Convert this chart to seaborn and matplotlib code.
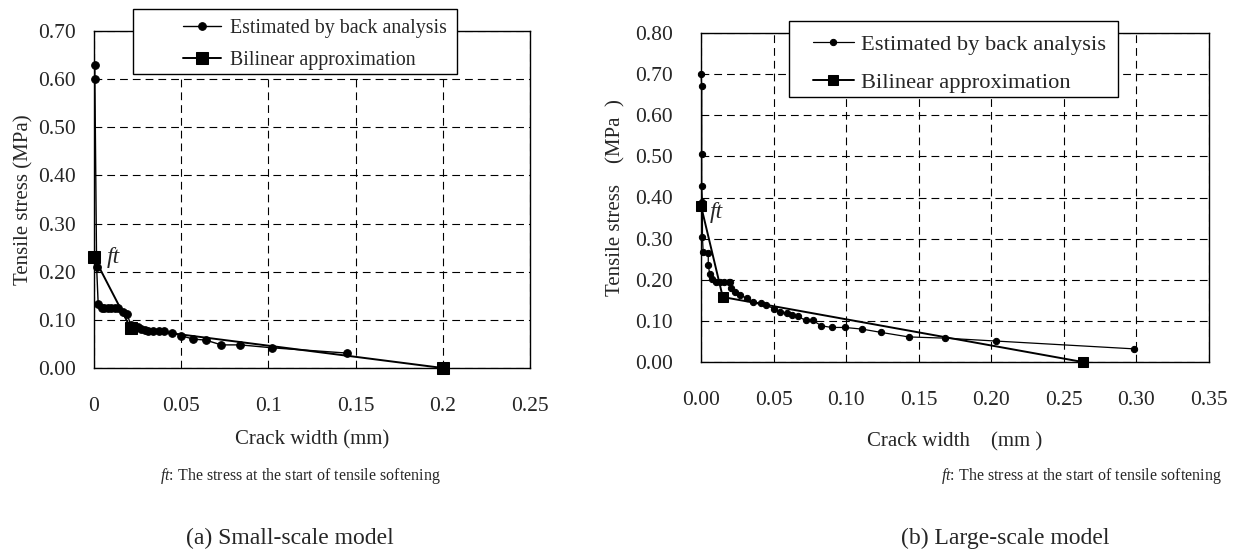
import matplotlib
matplotlib.use('Agg')
import matplotlib.pyplot as plt
from matplotlib.patches import Rectangle
import seaborn as sns

# Small-scale model: estimated by back analysis
small_x = [0.0005, 0.0005, 0.0015, 0.0024, 0.0045, 0.006, 0.008, 0.010, 0.012, 0.014,
           0.0165, 0.019, 0.021, 0.023, 0.025, 0.027, 0.029, 0.031, 0.034, 0.037,
           0.040, 0.045, 0.050, 0.057, 0.064, 0.073, 0.084, 0.102, 0.145]
small_y = [0.63, 0.60, 0.21, 0.133, 0.125, 0.125, 0.125, 0.125, 0.125, 0.125,
           0.117, 0.112, 0.09, 0.085, 0.085, 0.082, 0.078, 0.076, 0.076, 0.076,
           0.076, 0.073, 0.067, 0.060, 0.058, 0.048, 0.048, 0.042, 0.031]
# Small-scale model: bilinear approximation
small_bi_x = [0.0, 0.021, 0.2]
small_bi_y = [0.23, 0.083, 0.0]

# Large-scale model: estimated by back analysis
large_x = [0.0, 0.0005, 0.0005, 0.0005, 0.001, 0.001, 0.0015, 0.005, 0.005, 0.006,
           0.0076, 0.010, 0.013, 0.016, 0.019, 0.020, 0.021, 0.0235, 0.027, 0.032,
           0.036, 0.041, 0.045, 0.050, 0.0545, 0.059, 0.063, 0.067, 0.072, 0.077,
           0.083, 0.090, 0.099, 0.111, 0.124, 0.143, 0.168, 0.203, 0.298]
large_y = [0.70, 0.67, 0.506, 0.427, 0.389, 0.305, 0.267, 0.264, 0.235, 0.215,
           0.203, 0.195, 0.195, 0.195, 0.195, 0.195, 0.18, 0.17, 0.162, 0.155,
           0.146, 0.143, 0.138, 0.13, 0.122, 0.118, 0.115, 0.111, 0.101, 0.101,
           0.088, 0.084, 0.084, 0.080, 0.072, 0.061, 0.058, 0.051, 0.032]
# Large-scale model: bilinear approximation
large_bi_x = [0.0, 0.015, 0.263]
large_bi_y = [0.38, 0.158, 0.0]

small_xticks = [0, 0.05, 0.1, 0.15, 0.2, 0.25]
small_xticklabels = ['0', '0.05', '0.1', '0.15', '0.2', '0.25']
small_yticks = [0.0, 0.1, 0.2, 0.3, 0.4, 0.5, 0.6, 0.7]
large_xticks = [0.0, 0.05, 0.1, 0.15, 0.2, 0.25, 0.3, 0.35]
large_yticks = [0.0, 0.1, 0.2, 0.3, 0.4, 0.5, 0.6, 0.7, 0.8]

sns.set_style('white')
plt.rcParams['font.family'] = ['Liberation Serif', 'DejaVu Serif']
plt.rcParams['mathtext.fontset'] = 'custom'
plt.rcParams['mathtext.rm'] = 'Liberation Serif'
plt.rcParams['mathtext.it'] = 'Liberation Serif:italic'

W, H = 1237, 559
fig = plt.figure(figsize=(W / 100, H / 100), dpi=100)


def px_axes(x0, y0, x1, y1):
    # axes from pixel box (top-left origin)
    return fig.add_axes([x0 / W, 1 - y1 / H, (x1 - x0) / W, (y1 - y0) / H])


def style_axes(ax, xpad, ypad):
    for s in ax.spines.values():
        s.set_visible(True)
        s.set_color('black')
        s.set_linewidth(1.0)
    ax.grid(True, color='black', linestyle=(0, (7, 4.5)), linewidth=0.8)
    ax.set_axisbelow(True)
    ax.tick_params(axis='x', length=0, pad=xpad, labelsize=15.5)
    ax.tick_params(axis='y', length=0, pad=ypad, labelsize=15.5)


# (a) Small-scale model
ax1 = px_axes(94, 31, 530, 368)
sns.lineplot(x=small_x, y=small_y, ax=ax1, color='black', linewidth=1.0, marker='o',
             markersize=5.5, markeredgecolor='black', estimator=None, sort=False,
             label='Estimated by back analysis', clip_on=False)
sns.lineplot(x=small_bi_x, y=small_bi_y, ax=ax1, color='black', linewidth=1.4, marker='s',
             markersize=9, markeredgecolor='black', estimator=None, sort=False,
             label='Bilinear approximation', clip_on=False)
ax1.set_xlim(0, 0.25)
ax1.set_ylim(0, 0.7)
ax1.set_xticks(small_xticks)
ax1.set_xticklabels(small_xticklabels)
ax1.set_yticks(small_yticks)
ax1.set_yticklabels([f'{v:.2f}' for v in small_yticks])
style_axes(ax1, 21, 13)
ax1.set_xlabel('Crack width (mm)', fontsize=15, labelpad=10)
ax1.set_ylabel('Tensile stress (MPa)', fontsize=15, labelpad=3)
ax1.text(0.0075, 0.23, 'ft', fontsize=17, fontstyle='italic', va='center', ha='left')
h1, l1 = ax1.get_legend_handles_labels()
ax1.get_legend().remove()

# (b) Large-scale model
ax2 = px_axes(701, 33, 1209, 362)
sns.lineplot(x=large_x, y=large_y, ax=ax2, color='black', linewidth=0.9, marker='o',
             markersize=4.5, markeredgecolor='black', estimator=None, sort=False,
             label='Estimated by back analysis', clip_on=False)
sns.lineplot(x=large_bi_x, y=large_bi_y, ax=ax2, color='black', linewidth=1.4, marker='s',
             markersize=6.5, markeredgecolor='black', estimator=None, sort=False,
             label='Bilinear approximation', clip_on=False)
ax2.set_xlim(0, 0.35)
ax2.set_ylim(0, 0.8)
ax2.set_xticks(large_xticks)
ax2.set_xticklabels([f'{v:.2f}' for v in large_xticks])
ax2.set_yticks(large_yticks)
ax2.set_yticklabels([f'{v:.2f}' for v in large_yticks])
style_axes(ax2, 21, 20)
ax2.set_xlabel('Crack width    (mm )', fontsize=15, labelpad=16)
ax2.set_ylabel('Tensile stress    (MPa  )', fontsize=15, labelpad=7)
ax2.text(0.006, 0.364, 'ft', fontsize=17, fontstyle='italic', va='center', ha='left')
h2, l2 = ax2.get_legend_handles_labels()
ax2.get_legend().remove()

# legend boxes drawn on the figure so they overlap the axes frame
fig.patches.append(Rectangle((133 / W, 1 - 74 / H), 324 / W, 65 / H, transform=fig.transFigure,
                             facecolor='white', edgecolor='black', linewidth=1.0, zorder=3))
fig.patches.append(Rectangle((789 / W, 1 - 97 / H), 329 / W, 76 / H, transform=fig.transFigure,
                             facecolor='white', edgecolor='black', linewidth=1.0, zorder=3))
fig.legend(h1, l1, loc='upper left', bbox_to_anchor=(183 / W, 1 - 19 / H), frameon=False,
           fontsize=14.3, borderpad=0, borderaxespad=0, handlelength=1.9, handletextpad=0.45,
           labelspacing=0.66).set_zorder(5)
fig.legend(h2, l2, loc='upper left', bbox_to_anchor=(813 / W, 1 - 34 / H), frameon=False,
           fontsize=16.2, borderpad=0, borderaxespad=0, handlelength=1.8, handletextpad=0.35,
           labelspacing=0.76).set_zorder(5)

# footnotes and captions
fig.text(160 / W, 1 - 476 / H, r'$\mathit{ft}$: The stress at the start of tensile softening',
         fontsize=11.5, ha='left', va='center')
fig.text(1222 / W, 1 - 476 / H, r'$\mathit{ft}$: The stress at the start of tensile softening',
         fontsize=11.5, ha='right', va='center')
fig.text(290 / W, 1 - 538 / H, '(a) Small-scale model', fontsize=17, ha='center', va='center')
fig.text(1005 / W, 1 - 538 / H, '(b) Large-scale model', fontsize=17, ha='center', va='center')

fig.savefig('out.png', dpi=100)
